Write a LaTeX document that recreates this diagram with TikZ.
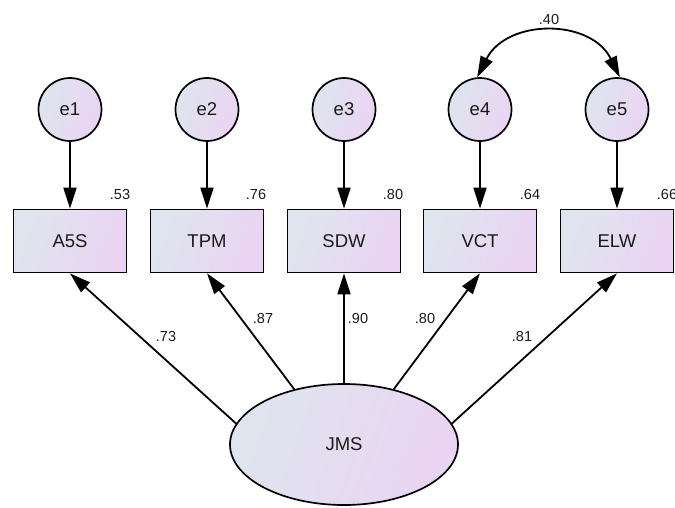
\documentclass[tikz,border=0pt]{standalone}
\usepackage{fontspec}
\setmainfont{Liberation Sans}
\usetikzlibrary{arrows.meta,shapes.geometric}
\definecolor{fillA}{HTML}{DEE5EE}
\definecolor{fillB}{HTML}{EBD4F3}
\definecolor{ink}{HTML}{1A1A1A}
\begin{document}
\begin{tikzpicture}[x=1pt,y=-1pt,line width=1.8pt,
  shaded/.style={draw=black,line width=1.7pt,left color=fillA,right color=fillB,
    shading angle=70,inner sep=0pt,text=ink,font=\fontsize{18.5}{20}\selectfont},
  obsbox/.style={shaded,rectangle,minimum width=113pt,minimum height=63pt},
  errnode/.style={shaded,circle,minimum size=63pt},
  latnode/.style={shaded,ellipse,minimum width=228pt,minimum height=121pt},
  arr/.style={-{Triangle[length=21pt,width=13pt]}},
  dblarr/.style={{Triangle[length=21pt,width=13pt]}-{Triangle[length=21pt,width=13pt]}},
  lbl/.style={inner sep=0pt,text=ink,font=\fontsize{14.5}{16}\selectfont}]
\useasboundingbox (0,0) rectangle (675,507);

% error terms
\node[errnode] (e1) at (70,109.5) {e1};
\node[errnode] (e2) at (207,109.5) {e2};
\node[errnode] (e3) at (344,109.5) {e3};
\node[errnode] (e4) at (480,109.5) {e4};
\node[errnode] (e5) at (617,109.5) {e5};

% observed indicators
\node[obsbox] (a5s) at (70,241) {A5S};
\node[obsbox] (tpm) at (207,241) {TPM};
\node[obsbox] (sdw) at (344,241) {SDW};
\node[obsbox] (vct) at (480,241) {VCT};
\node[obsbox] (elw) at (617,241) {ELW};

% latent factor
\node[latnode] (jms) at (344,444.5) {JMS};

% error paths
\draw[arr] (e1) -- (a5s);
\draw[arr] (e2) -- (tpm);
\draw[arr] (e3) -- (sdw);
\draw[arr] (e4) -- (vct);
\draw[arr] (e5) -- (elw);

% error covariance
\draw[dblarr] (e4.95) .. controls (507,18.4) and (591,18.4) .. (e5.85);
\node[lbl] (r45) at (549,20) {.40};

% factor loadings
\draw[arr] (jms.169) -- (a5s.south);
\draw[arr] (jms.132) -- (tpm.south);
\draw[arr] (jms.90) -- (sdw.south);
\draw[arr] (jms.48) -- (vct.south);
\draw[arr] (jms.11) -- (elw.south);

\node[lbl] (l1) at (166,337) {.73};
\node[lbl] (l2) at (263,319) {.87};
\node[lbl] (l3) at (358,319) {.90};
\node[lbl] (l4) at (425,319) {.80};
\node[lbl] (l5) at (522,337) {.81};

% squared multiple correlations
\node[lbl] (s1) at (120,195) {.53};
\node[lbl] (s2) at (256,195) {.76};
\node[lbl] (s3) at (393,195) {.80};
\node[lbl] (s4) at (530,195) {.64};
\node[lbl] (s5) at (667,195) {.66};
\end{tikzpicture}
\end{document}
